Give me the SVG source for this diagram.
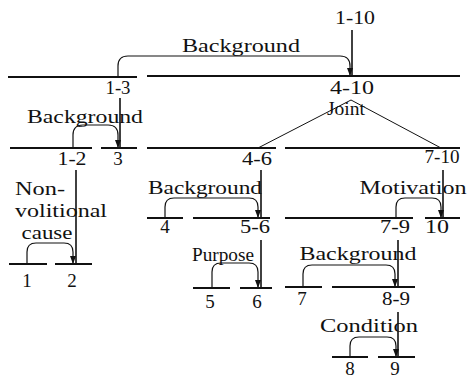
<svg xmlns="http://www.w3.org/2000/svg" width="469" height="379" viewBox="0 0 469 379">
<style>
.t text{font-size:19px;fill:#111;text-anchor:middle}
.span{stroke:#111;stroke-width:2;fill:none}
.v{stroke:#111;stroke-width:1.6;fill:none}
.arc{stroke:#111;stroke-width:1.2;fill:none;marker-end:url(#ah)}
.j{stroke:#111;stroke-width:1;fill:none}
</style>
<defs>
<marker id="ah" markerUnits="userSpaceOnUse" markerWidth="8" markerHeight="6" refX="8" refY="3" orient="auto">
<path d="M0,0 L8,3 L0,6 z" fill="#111"/>
</marker>
</defs>
<rect width="469" height="379" fill="#fff"/>
<g id="connectors">
<path class="v" d="M352,30 V76"/>
<path class="arc" d="M118,77 V66 Q118,56 128,56 H340 Q350,56 350,66 V76"/>
<path class="v" d="M120,98 V148"/>
<path class="arc" d="M73,148 V135 Q73,125 83,125 H108 Q118,125 118,135 V148"/>
<path class="j" d="M258,148 L351,100 L441,148"/>
<path class="v" d="M76,170 V264"/>
<path class="arc" d="M27,264 V252 Q27,243 36,243 H64 Q73,243 73,252 V264"/>
<path class="v" d="M261,170 V218"/>
<path class="arc" d="M165,218 V207 Q165,198 174,198 H249 Q258,198 258,207 V218"/>
<path class="v" d="M443,170 V218"/>
<path class="arc" d="M396,218 V207 Q396,198 405,198 H432 Q441,198 441,207 V218"/>
<path class="v" d="M261,240 V288"/>
<path class="arc" d="M212,288 V272 Q212,263 221,263 H249 Q258,263 258,272 V288"/>
<path class="v" d="M398,240 V287"/>
<path class="arc" d="M303,287 V274 Q303,265 312,265 H386 Q395,265 395,274 V287"/>
<path class="v" d="M398,312 V357"/>
<path class="arc" d="M350,357 V346 Q350,337 359,337 H387 Q396,337 396,346 V357"/>
</g>
<g class="t" font-family="Liberation Serif, DejaVu Serif, serif">
<g id="n1-10"><text x="355" y="24" textLength="40" lengthAdjust="spacingAndGlyphs">1-10</text></g>
<g id="rel-background-1"><text x="241" y="52" textLength="118" lengthAdjust="spacingAndGlyphs">Background</text></g>
<g id="n1-3"><line class="span" x1="8" y1="77" x2="137" y2="77"/><text x="118" y="94" textLength="25" lengthAdjust="spacingAndGlyphs">1-3</text></g>
<g id="n4-10"><line class="span" x1="147" y1="76" x2="460" y2="76"/><text x="352" y="94" textLength="44" lengthAdjust="spacingAndGlyphs">4-10</text></g>
<g id="rel-joint"><text x="346" y="115" textLength="38" lengthAdjust="spacingAndGlyphs">Joint</text></g>
<g id="rel-background-2"><text x="85" y="123" textLength="116" lengthAdjust="spacingAndGlyphs">Background</text></g>
<g id="n1-2"><line class="span" x1="10" y1="148" x2="92" y2="148"/><text x="72" y="165" textLength="29" lengthAdjust="spacingAndGlyphs">1-2</text></g>
<g id="n3"><line class="span" x1="101" y1="148" x2="137" y2="148"/><text x="118" y="165">3</text></g>
<g id="n4-6"><line class="span" x1="147" y1="148" x2="276" y2="148"/><text x="257" y="165" textLength="30" lengthAdjust="spacingAndGlyphs">4-6</text></g>
<g id="n7-10"><line class="span" x1="285" y1="148" x2="460" y2="148"/><text x="442" y="163" textLength="35" lengthAdjust="spacingAndGlyphs">7-10</text></g>
<g id="rel-nonvolitional"><text x="15" y="195" text-anchor="start" style="text-anchor:start" textLength="50" lengthAdjust="spacingAndGlyphs">Non-</text><text x="15" y="217" style="text-anchor:start" textLength="92" lengthAdjust="spacingAndGlyphs">volitional</text><text x="47" y="239" textLength="51" lengthAdjust="spacingAndGlyphs">cause</text></g>
<g id="n1"><line class="span" x1="9" y1="264" x2="47" y2="264"/><text x="27" y="287">1</text></g>
<g id="n2"><line class="span" x1="55" y1="264" x2="92" y2="264"/><text x="72" y="287">2</text></g>
<g id="rel-background-3"><text x="205" y="194" textLength="114" lengthAdjust="spacingAndGlyphs">Background</text></g>
<g id="rel-motivation"><text x="413" y="194" textLength="107" lengthAdjust="spacingAndGlyphs">Motivation</text></g>
<g id="n4"><line class="span" x1="147" y1="218" x2="183" y2="218"/><text x="165" y="233">4</text></g>
<g id="n5-6"><line class="span" x1="193" y1="218" x2="270" y2="218"/><text x="255" y="233" textLength="30" lengthAdjust="spacingAndGlyphs">5-6</text></g>
<g id="n7-9"><line class="span" x1="285" y1="218" x2="413" y2="218"/><text x="395" y="233" textLength="30" lengthAdjust="spacingAndGlyphs">7-9</text></g>
<g id="n10"><line class="span" x1="425" y1="218" x2="460" y2="218"/><text x="437" y="233" textLength="24" lengthAdjust="spacingAndGlyphs">10</text></g>
<g id="rel-purpose"><text x="223" y="261" textLength="62" lengthAdjust="spacingAndGlyphs">Purpose</text></g>
<g id="rel-background-4"><text x="358" y="260" textLength="117" lengthAdjust="spacingAndGlyphs">Background</text></g>
<g id="n5"><line class="span" x1="193" y1="288" x2="230" y2="288"/><text x="210" y="308">5</text></g>
<g id="n6"><line class="span" x1="240" y1="288" x2="272" y2="288"/><text x="257" y="308">6</text></g>
<g id="n7"><line class="span" x1="285" y1="287" x2="322" y2="287"/><text x="302" y="305">7</text></g>
<g id="n8-9"><line class="span" x1="332" y1="287" x2="415" y2="287"/><text x="396" y="305" textLength="28" lengthAdjust="spacingAndGlyphs">8-9</text></g>
<g id="rel-condition"><text x="369" y="332" textLength="98" lengthAdjust="spacingAndGlyphs">Condition</text></g>
<g id="n8"><line class="span" x1="332" y1="357" x2="368" y2="357"/><text x="350" y="375">8</text></g>
<g id="n9"><line class="span" x1="378" y1="357" x2="415" y2="357"/><text x="395" y="375">9</text></g>
</g>
</svg>
